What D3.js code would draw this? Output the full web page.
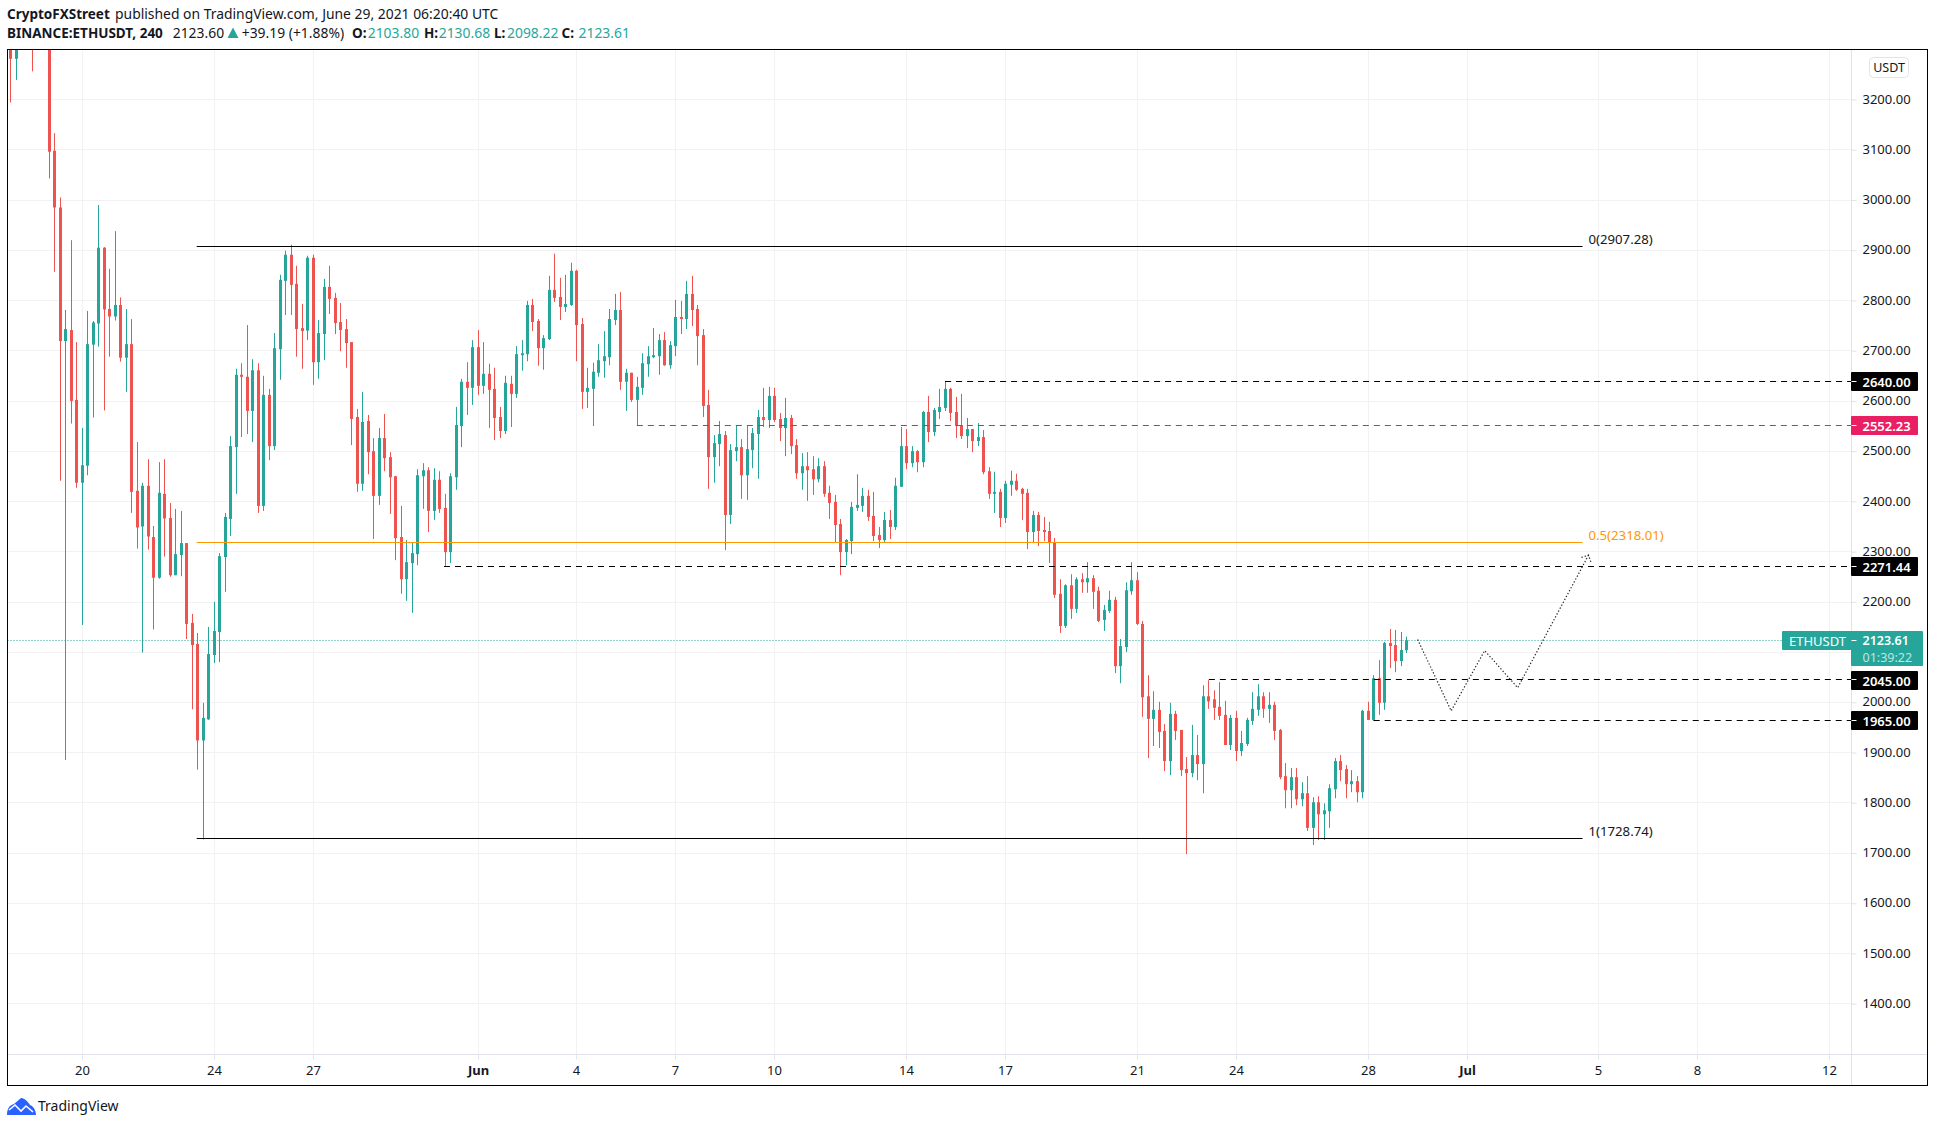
<!DOCTYPE html>
<html><head><meta charset="utf-8">
<script src="https://cdn.jsdelivr.net/npm/d3@7/dist/d3.min.js"></script>
<style>
html,body{margin:0;padding:0;background:#fff;overflow:hidden}
svg{display:block}
text{font-family:"Noto Sans",sans-serif;font-size:13px;fill:#131722}
</style></head><body>
<svg id="c" width="1935" height="1127"></svg>
<script>
// 4-hour candles; bar index 0 = 24 May 00:00, first bar index -37
const firstBar = -37;
const opens = [3320,3281,3330,3350,3400,3340,3370,3360,3098,2985,
2719,2741,2602,2437,2471,2712,2754,2905,2783,2768,
2791,2686,2713,2421,2350,2431,2329,2248,2415,2367,
2253,2293,2317,2158,2116,1924,1966,
2094,2140,2289,2365,2508,2652,2648,2580,2661,2391,
2612,2510,2703,2839,2891,2833,2745,2740,2885,2677,
2733,2827,2805,2757,2743,2717,2568,2435,2560,2500,
2411,2526,2488,2450,2329,2245,2277,2295,2450,2462,
2381,2443,2387,2299,2448,2550,2638,2626,2707,2630,
2654,2624,2568,2540,2634,2614,2691,2693,2791,2759,
2705,2723,2821,2807,2787,2791,2859,2753,2618,2624,
2656,2679,2687,2761,2781,2638,2656,2602,2626,2673,
2687,2689,2721,2671,2709,2767,2763,2813,2783,2731,
2592,2488,2514,2532,2373,2500,2508,2452,2502,2534,
2568,2562,2610,2564,2546,2566,2512,2456,2470,2464,
2444,2470,2417,2399,2355,2299,2321,2387,2391,2411,
2371,2333,2323,2363,2349,2429,2510,2476,2500,2478,
2578,2538,2578,2586,2624,2578,2552,2530,2544,2520,
2528,2460,2415,2419,2367,2433,2441,2425,2417,2339,
2373,2343,2341,2319,2216,2152,2233,2186,2245,2239,
2247,2222,2164,2182,2204,2072,2110,2221,2243,2156,
2012,1967,1985,1943,1883,1977,1945,1867,1859,1895,
1877,2012,2006,1991,1975,1915,1969,1903,1917,1963,
1985,2012,1987,1995,1945,1853,1825,1851,1807,1819,
1750,1801,1777,1783,1827,1883,1867,1837,1843,1821,
1983,1965,2048,1999,2118,2114,2082,2103.8];
const highs = [3340,3340,3370,3390,3420,3400,3420,3400,3133,3005,
2781,2920,2717,2546,2779,2759,2990,2906,2863,2938,
2806,2783,2763,2518,2437,2484,2351,2478,2484,2397,
2385,2381,2317,2176,2138,1999,2150,
2200,2297,2377,2530,2664,2675,2751,2683,2675,2650,
2624,2735,2851,2899,2911,2869,2793,2889,2891,2761,
2843,2869,2815,2795,2763,2717,2584,2618,2572,2526,
2546,2574,2498,2451,2391,2323,2319,2464,2476,2468,
2466,2460,2415,2456,2588,2644,2677,2721,2741,2717,
2674,2666,2588,2650,2650,2709,2721,2799,2803,2763,
2731,2849,2893,2845,2851,2875,2861,2765,2666,2676,
2713,2739,2783,2813,2817,2664,2656,2648,2695,2709,
2745,2733,2737,2719,2801,2799,2839,2849,2791,2743,
2622,2532,2560,2540,2514,2552,2524,2552,2546,2582,
2626,2628,2626,2576,2606,2572,2524,2496,2498,2490,
2486,2480,2431,2413,2365,2325,2399,2454,2427,2423,
2419,2349,2379,2383,2447,2548,2544,2510,2502,2580,
2610,2586,2624,2640,2626,2608,2614,2566,2544,2556,
2542,2468,2459,2425,2441,2461,2455,2427,2425,2381,
2379,2369,2359,2327,2245,2235,2255,2249,2257,2279,
2253,2230,2194,2222,2210,2126,2239,2279,2259,2162,
2054,2022,2001,1957,1999,1983,1945,1891,1955,1935,
2034,2044,2024,2040,2003,1975,1983,1943,1969,2020,
2036,2020,2020,2001,1947,1879,1869,1869,1841,1853,
1811,1813,1799,1837,1889,1895,1875,1865,1853,1985,
2001,2054,2084,2120,2146,2144,2140,2130.68];
const lows = [3194,3239,3310,3330,3256,3320,3320,3043,2857,2441,
1885,2555,2427,2154,2452,2567,2708,2581,2688,2760,
2678,2618,2377,2306,2099,2304,2145,2246,2290,2250,
2253,2251,2126,1986,1866,1727,1965,
2078,2080,2220,2331,2415,2528,2534,2518,2377,2381,
2482,2502,2642,2771,2771,2688,2664,2721,2632,2644,
2681,2773,2733,2699,2666,2512,2419,2421,2454,2325,
2393,2460,2375,2283,2216,2202,2178,2273,2385,2339,
2363,2377,2271,2277,2423,2508,2572,2592,2612,2614,
2546,2522,2526,2534,2548,2606,2660,2679,2739,2670,
2662,2721,2797,2761,2777,2789,2679,2584,2586,2550,
2648,2646,2671,2751,2622,2580,2598,2551,2612,2648,
2685,2652,2670,2664,2689,2733,2743,2749,2671,2568,
2425,2437,2470,2303,2355,2480,2405,2403,2466,2445,
2548,2546,2558,2520,2490,2494,2445,2423,2401,2413,
2438,2409,2365,2319,2253,2273,2295,2381,2379,2361,
2321,2307,2317,2325,2343,2429,2464,2468,2458,2468,
2518,2530,2564,2580,2560,2526,2524,2506,2498,2510,
2454,2405,2377,2349,2357,2411,2421,2363,2305,2317,
2311,2321,2277,2208,2138,2148,2166,2178,2218,2218,
2186,2160,2142,2178,2058,2038,2100,2214,2154,1971,
1889,1913,1909,1863,1855,1925,1853,1698,1851,1845,
1819,1987,1965,1965,1915,1905,1883,1893,1913,1955,
1973,1969,1959,1925,1847,1789,1789,1795,1793,1744,
1716,1726,1726,1750,1809,1843,1809,1821,1801,1809,
1965,1963,1975,1985,2068,2060,2072,2098.22];
const closes = [3281,3320,3350,3380,3340,3370,3360,3096,2985,2719,
2743,2600,2437,2472,2713,2756,2905,2782,2768,2791,
2686,2713,2419,2348,2431,2330,2248,2417,2366,2253,
2295,2317,2156,2114,1924,1969,2096,
2142,2291,2369,2510,2652,2648,2580,2661,2391,2612,
2510,2705,2841,2891,2831,2743,2739,2885,2677,2735,
2827,2803,2755,2741,2715,2564,2435,2558,2498,2411,
2526,2486,2448,2327,2245,2279,2297,2452,2462,2381,
2443,2385,2299,2450,2552,2638,2626,2707,2630,2654,
2622,2566,2540,2636,2614,2693,2695,2791,2757,2705,
2725,2821,2805,2787,2793,2859,2751,2618,2626,2658,
2681,2689,2763,2781,2638,2656,2602,2628,2675,2689,
2691,2721,2671,2711,2767,2763,2813,2781,2729,2590,
2488,2516,2534,2373,2502,2508,2452,2504,2536,2568,
2562,2610,2562,2546,2566,2510,2456,2470,2462,2444,
2470,2415,2397,2353,2299,2323,2389,2393,2411,2369,
2331,2323,2363,2349,2431,2510,2476,2500,2478,2578,
2538,2582,2588,2624,2576,2550,2530,2544,2520,2528,
2458,2415,2419,2367,2435,2441,2423,2415,2339,2373,
2341,2339,2317,2214,2152,2233,2186,2245,2239,2247,
2220,2162,2184,2204,2072,2112,2223,2243,2156,2010,
1967,1985,1941,1883,1977,1943,1865,1859,1895,1877,
2012,2002,1989,1973,1915,1969,1903,1919,1965,1987,
2012,1987,1995,1943,1851,1825,1851,1807,1819,1750,
1801,1777,1785,1829,1883,1865,1837,1843,1821,1983,
1965,2048,1999,2118,2112,2082,2104,2123.61];

const priceTicks = [1400,1500,1600,1700,1800,1900,2000,2100,2200,2300,2400,2500,2600,2700,2800,2900,3000,3100,3200];
// the 2100.00 tick sits behind the last-price label in the reference, so it shows no text
const hiddenTickLabels = [2100];
const dayBars = [-24,0,18,48,66,84,102,126,144,168,186,210,228,252,270,294];
const dayLabels = ['20','24','27','Jun','4','7','10','14','17','21','24','28','Jul','5','8','12'];

// Fibonacci levels: level label, price, colour
const fibNames = ['0(2907.28)','0.5(2318.01)','1(1728.74)'];
const fibPrices = [2907.28,2318.01,1728.74];
const fibColors = ['#000000','#ff9800','#000000'];
const fibFrom = -3.2, fibTo = 249;

// Horizontal rays: price, first bar, colour, label
const rayPrices = [2640,2552.23,2271.44,2045,1965];
const rayBars = [133,76.9,41.8,181,211];
const rayColors = ['#000000','#e91e63','#000000','#000000','#000000'];
const rayLabels = ['2640.00','2552.23','2271.44','2045.00','1965.00'];

// Forecast path
const pathBars = [219,225.1,231.2,237.2,250.1];
const pathPrices = [2125,1983,2103,2029,2293];

const lastPrice = 2123.61;

const TEAL='#26a69a', RED='#ef5350', GRID='#f2f2f4', AXIS='#e0e3eb';
const L=7.5, T=49.5, R=1927.5, B=1085.5, PX=1851.5, TY=1054.5;

const x = d3.scaleLinear().domain([0,210]).range([214.3,1368.2]);
const y = d3.scaleLinear().domain([1400,3200]).range([1003.7,99.5]);
const svg = d3.select('#c');
const snap = v => Math.floor(v+0.2)+.5;

svg.append('defs').append('clipPath').attr('id','plot').append('rect')
  .attr('x',L).attr('y',T).attr('width',PX-L).attr('height',TY-T);

// grid
const gGrid = svg.append('g');
gGrid.selectAll('line.h').data(priceTicks).join('line').attr('class','h')
  .attr('x1',L).attr('x2',PX).attr('y1',d=>snap(y(d))).attr('y2',d=>snap(y(d)))
  .attr('stroke',GRID);
gGrid.selectAll('line.v').data(dayBars).join('line').attr('class','v')
  .attr('y1',T).attr('y2',TY).attr('x1',d=>Math.floor(x(d))+.5).attr('x2',d=>Math.floor(x(d))+.5)
  .attr('stroke',GRID);

const plot = svg.append('g').attr('clip-path','url(#plot)');

// last price line
plot.append('line').attr('x1',L).attr('x2',PX).attr('y1',snap(y(lastPrice))).attr('y2',snap(y(lastPrice)))
  .attr('stroke',TEAL).attr('stroke-dasharray','1 2');

// candles
const bars = opens.map((o,i)=>({t:firstBar+i,o,h:highs[i],l:lows[i],c:closes[i]}));
const gC = plot.append('g');
gC.selectAll('line').data(bars).join('line')
  .attr('x1',d=>Math.floor(x(d.t))+.5).attr('x2',d=>Math.floor(x(d.t))+.5)
  .attr('y1',d=>y(d.h)).attr('y2',d=>y(d.l))
  .attr('stroke',d=>d.c>=d.o?TEAL:RED);
gC.selectAll('rect').data(bars).join('rect')
  .attr('x',d=>Math.floor(x(d.t))-1).attr('width',3)
  .attr('y',d=>y(Math.max(d.o,d.c)))
  .attr('height',d=>Math.max(1,Math.abs(y(d.o)-y(d.c))))
  .attr('fill',d=>d.c>=d.o?TEAL:RED);

// fib lines
const gF = svg.append('g');
gF.selectAll('line').data(fibPrices).join('line')
  .attr('x1',x(fibFrom)).attr('x2',x(fibTo))
  .attr('y1',d=>snap(y(d))).attr('y2',d=>snap(y(d)))
  .attr('stroke',(d,i)=>fibColors[i]);
gF.selectAll('text').data(fibPrices).join('text')
  .attr('x',x(fibTo)+6).attr('y',d=>y(d)-2.6)
  .style('font-size','13.2px')
  .style('fill',(d,i)=>i===1?fibColors[i]:'#131722')
  .text((d,i)=>fibNames[i]);

// rays
plot.append('g').selectAll('line').data(rayPrices).join('line')
  .attr('x1',(d,i)=>x(rayBars[i])).attr('x2',PX)
  .attr('y1',d=>snap(y(d))).attr('y2',d=>snap(y(d)))
  .attr('stroke',(d,i)=>rayColors[i]).attr('stroke-width',1.2).attr('stroke-dasharray','6 5');

// forecast path
const pathLine = d3.line().x(d=>x(d[0])).y(d=>y(d[1]));
const pts = pathBars.map((b,i)=>[b,pathPrices[i]]);
plot.append('path').attr('d',pathLine(pts)).attr('fill','none')
  .attr('stroke','#222').attr('stroke-width',1.2).attr('stroke-dasharray','1.3 2');
const a=pts[pts.length-1], pxA=x(a[0]), pyA=y(a[1]);
plot.append('path').attr('d',pathLine([[x.invert(pxA-7),y.invert(pyA+2.3)],a,[x.invert(pxA+2.6),y.invert(pyA+7.7)]]))
  .attr('fill','none').attr('stroke','#222').attr('stroke-width',1.2).attr('stroke-dasharray','1.3 2');

// axes
svg.append('line').attr('x1',PX).attr('x2',PX).attr('y1',T).attr('y2',B).attr('stroke',AXIS);
svg.append('line').attr('x1',L).attr('x2',R).attr('y1',TY).attr('y2',TY).attr('stroke',AXIS);
const ya = svg.append('g').attr('transform',`translate(${PX},0)`)
  .call(d3.axisRight(y).tickValues(priceTicks).tickFormat(d=>hiddenTickLabels.includes(d)?'':d3.format('.2f')(d)).tickSize(5).tickPadding(6));
ya.select('.domain').remove();
ya.selectAll('line').attr('stroke',AXIS);
ya.selectAll('text').style('font-family','Noto Sans').style('font-size','13px').style('fill','#131722').attr('dy','0.28em');
const xa = svg.append('g').attr('transform',`translate(0,${TY})`)
  .call(d3.axisBottom(x).tickValues(dayBars).tickFormat((d,i)=>dayLabels[i]).tickSize(5).tickPadding(6));
xa.select('.domain').remove();
xa.selectAll('.tick').attr('transform',d=>`translate(${Math.floor(x(d))+.5},0)`);
xa.selectAll('line').attr('stroke',AXIS);
xa.selectAll('text').style('font-family','Noto Sans').style('font-size','13px').style('fill','#131722')
  .style('font-weight',(d,i)=>/[A-Z]/.test(dayLabels[i])?700:400);

// price labels
const gL = svg.append('g');
rayPrices.forEach((p,i)=>{
  const cy=y(p);
  gL.append('rect').attr('x',PX-.5).attr('y',Math.round(cy)-9).attr('width',67).attr('height',19)
    .attr('fill',rayColors[i]).attr('rx',1);
  gL.append('line').attr('x1',PX).attr('x2',PX+5).attr('y1',snap(cy)).attr('y2',snap(cy)).attr('stroke','#fff');
  gL.append('text').attr('x',PX+11).attr('y',Math.round(cy)+5.5).style('fill','#fff').style('font-weight',600).text(rayLabels[i]);
});
const ly=y(lastPrice);
gL.append('rect').attr('x',1782).attr('y',Math.round(ly)-9).attr('width',70).attr('height',19).attr('fill',TEAL).attr('rx',1);
gL.append('rect').attr('x',PX-.5).attr('y',Math.round(ly)-9).attr('width',72).attr('height',35).attr('fill',TEAL).attr('rx',1);
gL.append('line').attr('x1',PX).attr('x2',PX+5).attr('y1',snap(ly)).attr('y2',snap(ly)).attr('stroke','#fff');
gL.append('text').attr('x',1789).attr('y',Math.round(ly)+5.5).style('fill','#fff').text('ETHUSDT');
gL.append('text').attr('x',PX+11).attr('y',Math.round(ly)+4.5).style('fill','#fff').style('font-weight',600).style('font-size','12.5px').text('2123.61');
gL.append('text').attr('x',PX+11).attr('y',Math.round(ly)+22).style('fill','#bfe5e1').style('font-size','12.5px').text('01:39:22');

// USDT button
svg.append('rect').attr('x',1869.5).attr('y',57.5).attr('width',39).attr('height',20).attr('rx',4).attr('fill','#fff').attr('stroke','#e0e3eb');
svg.append('text').attr('x',1889).attr('y',72).attr('text-anchor','middle').style('font-size','12.5px').text('USDT');

// frame
svg.append('rect').attr('x',L).attr('y',T).attr('width',R-L).attr('height',B-T).attr('fill','none').attr('stroke','#000');

// header
const HB='13.5px', HR='13.9px';
const h1=svg.append('text').attr('x',7).attr('y',19);
h1.append('tspan').style('font-weight',700).style('font-size',HB).text('CryptoFXStreet');
h1.append('tspan').attr('x',115).style('font-size',HR).text('published on TradingView.com, June 29, 2021 06:20:40 UTC');
const head=[[7,38,'BINANCE:ETHUSDT, 240',700,'#131722',HB],[172.7,38,'2123.60',400,'#131722',HR],[241.7,38,'+39.19 (+1.88%)',400,'#131722',HR],
 [352,38,'O:',700,'#131722',HB],[367.7,38,'2103.80',400,TEAL,HR],[424,38,'H:',700,'#131722',HB],[438.7,38,'2130.68',400,TEAL,HR],
 [494,38,'L:',700,'#131722',HB],[507,38,'2098.22',400,TEAL,HR],[561.5,38,'C:',700,'#131722',HB],[578.5,38,'2123.61',400,TEAL,HR]];
head.forEach(d=>svg.append('text').attr('x',d[0]).attr('y',d[1]).style('font-weight',d[3]).style('fill',d[4]).style('font-size',d[5]).text(d[2]));
svg.append('path').attr('d','M233 27.5L238.5 38H227.5Z').attr('fill',TEAL);

// logo
svg.append('path').attr('d','M7 1115C7 1108 10 1105 14 1104L21 1098C25 1098 28 1102 30 1105C33 1106 36 1110 36 1115Z').attr('fill','#2962ff');
svg.append('path').attr('d','M9 1110L15 1105L21 1111L26 1106L33 1112').attr('fill','none').attr('stroke','#fff').attr('stroke-width',1.6);
svg.append('text').attr('x',38).attr('y',1111).style('font-size','14px').text('TradingView');
</script>
</body></html>
